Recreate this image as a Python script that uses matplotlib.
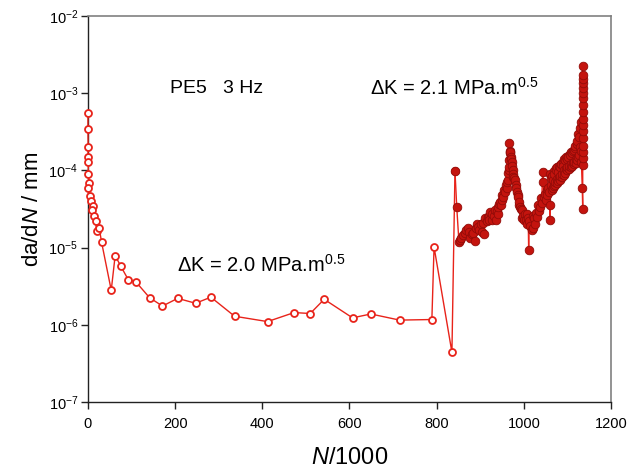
import matplotlib
matplotlib.use("Agg")
import matplotlib.pyplot as plt
from matplotlib.ticker import LogLocator, NullLocator, FixedLocator

plt.rcParams['font.family'] = ['Liberation Sans', 'DejaVu Sans']
plt.rcParams['mathtext.fontset'] = 'custom'
plt.rcParams['mathtext.rm'] = 'Liberation Sans'
plt.rcParams['mathtext.it'] = 'Liberation Sans:italic'
plt.rcParams['mathtext.bf'] = 'Liberation Sans:bold'

# dK = 2.0 MPa.m^0.5 block (open circles)
n_low = [0, 0, 0.5, 0, 0.7, 0.8, 3, 0.7, 4.6, 7, 10.8, 8.5, 13.8, 17.7, 20, 26,
         31.4, 53.5, 62.5, 75, 93, 110, 141.5, 171, 206, 247, 282, 336.5, 412,
         473, 510, 542, 607, 649, 715, 789, 794, 835, 842]
rate_low = [5.6e-4, 3.4e-4, 2.0e-4, 1.48e-4, 1.29e-4, 9.1e-5, 6.8e-5, 5.9e-5, 4.7e-5,
            4.0e-5, 3.5e-5, 3.1e-5, 2.6e-5, 2.2e-5, 1.66e-5, 1.78e-5, 1.17e-5, 2.8e-6,
            7.9e-6, 5.8e-6, 3.8e-6, 3.6e-6, 2.24e-6, 1.75e-6, 2.2e-6, 1.9e-6, 2.28e-6,
            1.29e-6, 1.1e-6, 1.44e-6, 1.4e-6, 2.14e-6, 1.23e-6, 1.38e-6, 1.15e-6,
            1.17e-6, 1.02e-5, 4.4e-7, 9.8e-5]

# dK = 2.1 MPa.m^0.5 block (filled circles)
n_high = [842, 846, 851, 854, 856, 861, 864, 867, 871, 874, 877, 880, 884, 888, 890,
          892, 895, 898, 902, 905, 907, 909, 911, 915, 917, 919, 921, 922, 926, 928,
          932, 934, 936, 938, 940, 941, 943, 945, 947, 949, 951, 953, 955, 957, 959,
          961, 962, 963, 964, 965, 966, 967, 968, 968, 967, 969, 970, 971, 972, 973,
          974, 975, 976, 978, 980, 982, 983, 985, 986, 987, 988, 990, 991, 993, 995,
          996, 999, 1001, 1003, 1005, 1007, 1008, 1010, 1011, 1012, 1015, 1018, 1020,
          1022, 1024, 1026, 1028, 1030, 1032, 1034, 1037, 1039, 1041, 1043, 1045,
          1046, 1048, 1050, 1052, 1054, 1056, 1058, 1060, 1060, 1060, 1062, 1063,
          1064, 1065, 1066, 1067, 1068, 1069, 1070, 1071, 1072, 1073, 1074, 1075,
          1076, 1077, 1078, 1079, 1080, 1081, 1082, 1083, 1084, 1085, 1086, 1087,
          1088, 1089, 1090, 1091, 1092, 1093, 1094, 1095, 1096, 1097, 1098, 1099,
          1100, 1101, 1102, 1103, 1104, 1105, 1106, 1107, 1108, 1109, 1110, 1111,
          1112, 1113, 1114, 1115, 1116, 1117, 1118, 1119, 1120, 1121, 1122, 1123,
          1124, 1125, 1126, 1127, 1128, 1129, 1130, 1131, 1132,
          1134, 1135, 1135, 1135, 1135, 1135, 1135, 1135, 1135, 1135, 1135, 1135,
          1135, 1135, 1135, 1135, 1135, 1135, 1135]
rate_high = [9.8e-5, 3.4e-5, 1.2e-5, 1.27e-5, 1.32e-5, 1.45e-5, 1.55e-5, 1.7e-5, 1.78e-5,
             1.6e-5, 1.32e-5, 1.5e-5, 1.55e-5, 1.23e-5, 1.8e-5, 2.05e-5, 1.85e-5, 1.7e-5,
             2.0e-5, 1.6e-5, 2.1e-5, 1.5e-5, 2.4e-5, 2.2e-5, 2.5e-5, 2.6e-5, 2.3e-5,
             2.9e-5, 2.3e-5, 2.7e-5, 2.6e-5, 3.1e-5, 2.3e-5, 3.0e-5, 2.75e-5, 3.4e-5,
             3.7e-5, 3.9e-5, 3.6e-5, 4.1e-5, 4.8e-5, 4.5e-5, 5.6e-5, 5.3e-5, 6.5e-5,
             5.9e-5, 7.0e-5, 7.5e-5, 9.2e-5, 1.0e-4, 1.12e-4, 1.35e-4, 1.66e-4, 1.8e-4,
             2.3e-4, 1.75e-4, 1.5e-4, 1.4e-4, 1.29e-4, 1.15e-4, 1.02e-4, 9.0e-5, 8.3e-5,
             8.0e-5, 7.5e-5, 6.5e-5, 5.9e-5, 5.3e-5, 4.8e-5, 4.5e-5, 3.55e-5, 3.9e-5,
             3.4e-5, 3.2e-5, 3.1e-5, 2.4e-5, 2.6e-5, 2.3e-5, 2.75e-5, 2.3e-5, 2.0e-5,
             2.75e-5, 2.4e-5, 9.4e-6, 2.2e-5, 1.9e-5, 1.7e-5, 2.6e-5, 1.78e-5, 2.4e-5,
             2.0e-5, 2.8e-5, 2.5e-5, 3.6e-5, 3.0e-5, 3.4e-5, 4.4e-5, 3.8e-5, 9.5e-5,
             7.1e-5, 4.5e-5, 5.0e-5, 4.2e-5, 5.5e-5, 4.8e-5, 6.0e-5, 5.2e-5, 2.3e-5,
             3.6e-5, 9.1e-5, 6.5e-5, 8.0e-5,
             5.6e-5, 8.6e-5, 7.5e-5, 5.9e-5, 6.2e-5, 9.8e-5, 9.0e-5, 6.4e-5, 7.0e-5,
             1.08e-4, 1.0e-4, 6.8e-5,
             7.8e-5, 1.12e-4, 9.5e-5, 7.2e-5, 8.0e-5, 1.15e-4, 1.1e-4, 7.6e-5, 8.5e-5,
             1.22e-4, 1.2e-4, 8.2e-5,
             9.0e-5, 1.3e-4, 1.15e-4, 8.8e-5, 1.0e-4, 1.4e-4, 1.35e-4, 9.4e-5, 1.05e-4,
             1.48e-4, 1.4e-4, 1.0e-4,
             1.1e-4, 1.55e-4, 1.5e-4, 1.05e-4, 1.15e-4, 1.62e-4, 1.6e-4, 1.1e-4, 1.2e-4,
             1.72e-4, 1.7e-4, 1.15e-4,
             1.25e-4, 1.8e-4, 1.85e-4, 1.2e-4, 1.3e-4, 1.95e-4, 2.1e-4, 1.25e-4, 1.4e-4,
             2.2e-4, 2.4e-4, 1.35e-4,
             1.5e-4, 3.0e-4, 2.7e-4, 1.6e-4, 3.6e-4, 2.0e-4, 1.8e-4, 4.3e-4, 1.3e-4,
             5.9e-5, 3.2e-5, 1.17e-4, 1.43e-4, 1.75e-4,
             2.1e-4, 2.6e-4, 3.2e-4, 3.9e-4, 4.7e-4, 5.8e-4, 7.0e-4, 8.6e-4, 1.0e-3,
             1.16e-3, 1.34e-3, 1.53e-3, 1.72e-3, 2.27e-3]

x_ticks = [0, 200, 400, 600, 800, 1000, 1200]

fig = plt.figure(figsize=(6.28, 4.74), dpi=100)
ax = fig.add_axes([0.140, 0.152, 0.833, 0.814])

line_red = '#e8231a'
ax.plot(n_low, rate_low, '-', color=line_red, lw=1.0, marker='o', ms=5,
        mfc='white', mec=line_red, mew=1.3, zorder=3, clip_on=False)
ax.plot(n_high, rate_high, '-', color=line_red, lw=1.0, marker='o', ms=6.2,
        mfc='#c4140e', mec='#920b08', mew=0.6, zorder=4, clip_on=False)

ax.set_yscale('log')
ax.set_ylim(1e-7, 1e-2)
ax.set_xlim(0, 1200)
ax.xaxis.set_major_locator(FixedLocator(x_ticks))
ax.yaxis.set_major_locator(LogLocator(base=10, numticks=10))
ax.yaxis.set_minor_locator(NullLocator())

for s in ['top', 'right']:
    ax.spines[s].set_color('#808080')
    ax.spines[s].set_linewidth(1.2)
for s in ['left', 'bottom']:
    ax.spines[s].set_color('#222222')
    ax.spines[s].set_linewidth(1.0)
ax.tick_params(axis='both', direction='out', length=5, width=1.0, color='#222222')
ax.tick_params(axis='y', labelsize=10.5, pad=2)
ax.tick_params(axis='x', labelsize=10.5, pad=6)

ax.set_xlabel('$N$/1000', fontsize=17, labelpad=11)
ax.set_ylabel('da/d$N$ / mm', fontsize=16, labelpad=4)

ax.text(0.157, 0.813, 'PE5   3 Hz', transform=ax.transAxes, fontsize=14, va='center')
ax.text(0.539, 0.813, r'$\Delta$K = 2.1 MPa.m$^{0.5}$', transform=ax.transAxes,
        fontsize=14.5, va='center')
ax.text(0.171, 0.355, r'$\Delta$K = 2.0 MPa.m$^{0.5}$', transform=ax.transAxes,
        fontsize=14.5, va='center')

fig.savefig('out.png', dpi=100)
